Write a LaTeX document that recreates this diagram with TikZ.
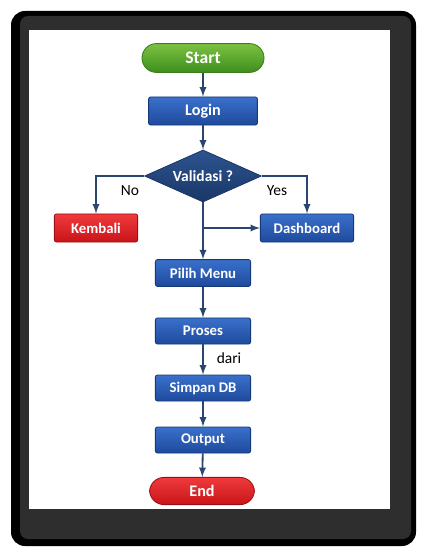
\documentclass[tikz,border=0pt]{standalone}
\usepackage{fontspec}
\setmainfont{Carlito}
\usetikzlibrary{shapes.geometric}

\definecolor{linecol}{HTML}{2A4670}
\definecolor{framegray}{HTML}{2E2E2E}
\definecolor{boxtop}{HTML}{3A70CB}
\definecolor{boxbot}{HTML}{1E4A9C}
\definecolor{boxedge}{HTML}{163A78}
\definecolor{greentop}{HTML}{7CC242}
\definecolor{greenbot}{HTML}{3E8E1E}
\definecolor{greenedge}{HTML}{3A7D1A}
\definecolor{redtop}{HTML}{F03A3C}
\definecolor{redbot}{HTML}{C8141A}
\definecolor{rededge}{HTML}{9C1015}
\definecolor{navytop}{HTML}{2C5491}
\definecolor{navybot}{HTML}{1A3766}

\begin{document}
\begin{tikzpicture}[
  x=0.025cm,
  y=-0.025cm,
  flow/.style={
    draw=linecol,
    line width=1.3pt,
    -latex
  },
  box/.style={
    rectangle,
    draw=boxedge,
    line width=0.6pt,
    rounded corners=1.5pt,
    top color=boxtop,
    bottom color=boxbot,
    text=white,
    font=\bfseries\fontsize{10.5}{12}\selectfont,
    minimum width=2.38cm,
    minimum height=0.65cm
  },
  terminal/.style={
    box,
    rounded corners=0.36cm,
    minimum height=0.72cm
  },
  decision/.style={
    diamond,
    aspect=2.25,
    draw=navybot,
    line width=0.6pt,
    inner sep=0pt,
    top color=navytop,
    bottom color=navybot,
    text=white,
    font=\bfseries\fontsize{11}{13}\selectfont,
    minimum width=2.92cm,
    minimum height=1.3cm
  },
  answer/.style={
    text=black,
    font=\fontsize{11}{13}\selectfont
  }
]
  \useasboundingbox (0,0) rectangle (420,550);
  \fill[white] (0,0) rectangle (420,550);
  \fill[black, rounded corners=0.35cm] (11,11) rectangle (416,546);
  \fill[framegray, rounded corners=0.2cm] (20,16) rectangle (411,539);
  \fill[white] (29,30) rectangle (390,509);

  \node[terminal, top color=greentop, bottom color=greenbot, draw=greenedge,
    minimum width=3.05cm, font=\bfseries\fontsize{12.5}{14}\selectfont]
    (start) at (203,58) {Start};
  \node[box, minimum width=2.72cm, minimum height=0.7cm,
    font=\bfseries\fontsize{11.5}{13}\selectfont]
    (login) at (203,111) {Login};
  \node[decision] (validasi) at (203,176) {Validasi ?};
  \node[box, top color=redtop, bottom color=redbot, draw=rededge,
    minimum width=2.08cm, minimum height=0.7cm]
    (kembali) at (96,228) {Kembali};
  \node[box, minimum width=2.33cm, minimum height=0.7cm]
    (dashboard) at (307,228) {Dashboard};
  \node[box, minimum height=0.67cm] (pilihmenu) at (203,273) {Pilih Menu};
  \node[box] (proses) at (203,331) {Proses};
  \node[box] (simpandb) at (203,388) {Simpan DB};
  \node[box] (output) at (203,440) {Output};
  \node[terminal, top color=redtop, bottom color=redbot, draw=rededge,
    minimum width=2.62cm, minimum height=0.68cm,
    font=\bfseries\fontsize{11.5}{13}\selectfont]
    (selesai) at (202,491) {End};

  \node[answer] (no) at (130,191) {No};
  \node[answer] (yes) at (277,191) {Yes};
  \node[answer] (dari) at (229,358) {dari};

  \coordinate (split) at (203,228);

  \draw[flow] (start) -- (login);
  \draw[flow] (login) -- (validasi);
  \draw[flow] (validasi.west) -| (kembali.north);
  \draw[flow] (validasi.east) -| (dashboard.north);
  \draw[flow] (validasi.south) -- (pilihmenu.north);
  \draw[flow] (split) -- (dashboard.west);
  \draw[flow] (pilihmenu) -- (proses);
  \draw[flow] (proses) -- (simpandb);
  \draw[flow] (simpandb) -- (output);
  \draw[flow] (output) -- (selesai);
\end{tikzpicture}
\end{document}
